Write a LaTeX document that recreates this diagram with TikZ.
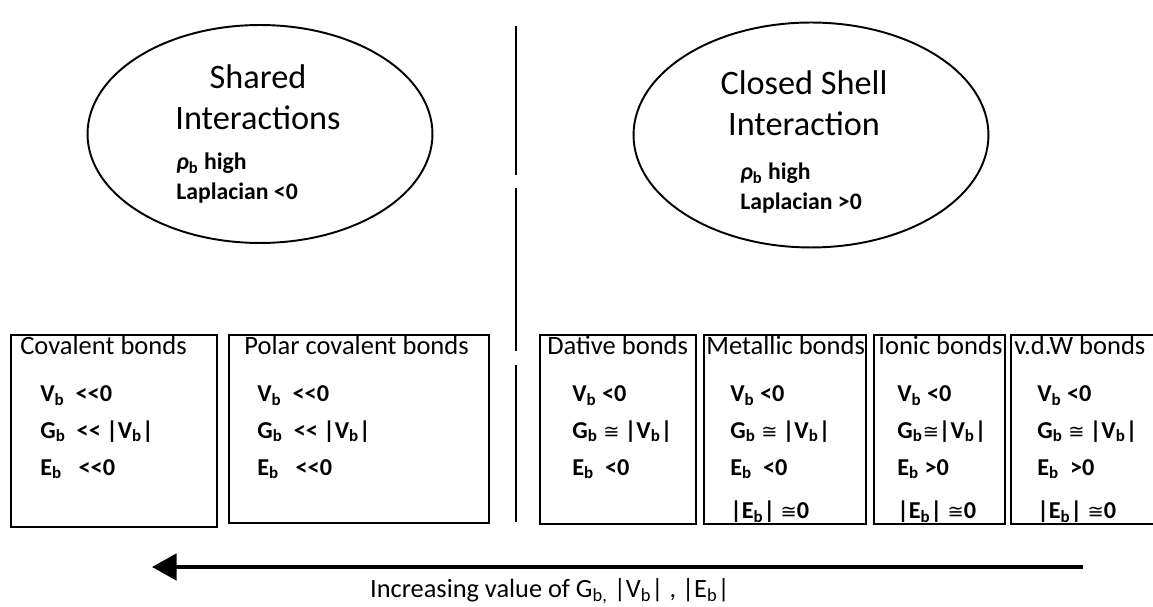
\documentclass[tikz,border=0pt]{standalone}
\usepackage{fontspec}
\setmainfont{Carlito}[Ligatures=TeXOff]
\newfontfamily\symfont{DejaVu Sans}
\usepackage{tikz}
\usetikzlibrary{shapes.geometric,arrows.meta}
\newcommand{\bsub}{\textsubscript{b}}
\newcommand{\approxeq}{{\symfont\mdseries\fontsize{11}{13}\selectfont ≅}}

\begin{document}
\begin{tikzpicture}[>={Triangle[length=14pt,width=15pt]}, x=0.02cm, y=-0.02cm,
  bondbox/.style={draw, line width=1.6pt, inner sep=0pt},
  bondtitle/.style={anchor=base west, inner sep=0pt, font=\fontsize{15.1}{17}\selectfont},
  bondvals/.style={anchor=north west, inner sep=0pt, align=left, font=\bfseries\fontsize{13.8}{21}\selectfont},
  kind/.style={draw, ellipse, line width=1.1pt, inner sep=0pt},
  kindtitle/.style={align=center, inner sep=0pt, font=\fontsize{19.5}{23.3}\selectfont},
  kindvals/.style={anchor=north west, inner sep=0pt, align=left, font=\bfseries\fontsize{13.5}{17}\selectfont}]
\useasboundingbox (0,0) rectangle (1153,607);

% the two kinds of interaction
\node[kind, minimum width=6.9cm, minimum height=4.36cm] (SI) at (260,134) {};
\node[kindtitle] (SIt) at (258,97) {Shared\\Interactions};
\node[kindvals] (SIv) at (176,153) {{\itshape ρ}\bsub{} high\\Laplacian <0};

\node[kind, minimum width=7.1cm, minimum height=4.5cm] (CS) at (811,135) {};
\node[kindtitle] (CSt) at (804,103) {Closed Shell\\Interaction};
\node[kindvals] (CSv) at (740,163) {{\itshape ρ}\bsub{} high\\Laplacian >0};

% dividing line
\draw[line width=1.6pt] (516,26) -- (516,175);
\draw[line width=1.6pt] (516,188) -- (516,351);
\draw[line width=1.6pt] (516,365) -- (516,522);

% bond types
\node[bondbox, minimum width=4.12cm, minimum height=3.84cm] (cov) at (114,431) {};
\node[bondbox, minimum width=5.2cm, minimum height=3.76cm] (pol) at (359,429) {};
\node[bondbox, minimum width=3.12cm, minimum height=3.78cm] (dat) at (618,429.5) {};
\node[bondbox, minimum width=3.24cm, minimum height=3.78cm] (met) at (785,429.5) {};
\node[bondbox, minimum width=2.62cm, minimum height=3.78cm] (ion) at (939.5,429.5) {};
\node[bondbox, minimum width=3.08cm, minimum height=3.78cm] (vdw) at (1088,429.5) {};

\node[bondtitle] (covT) at (20,355) {Covalent bonds};
\node[bondtitle] (polT) at (244,355) {Polar covalent bonds};
\node[bondtitle] (datT) at (547,355) {Dative bonds};
\node[bondtitle] (metT) at (706,355) {Metallic bonds};
\node[bondtitle] (ionT) at (878,355) {Ionic bonds};
\node[bondtitle] (vdwT) at (1014,355) {v.d.W bonds};

\node[bondvals] (covV) at (40,385) {V\bsub~~<<0\\G\bsub~~<< |V\bsub|\\E\bsub~~~<<0};
\node[bondvals] (polV) at (257,385) {V\bsub~~<<0\\G\bsub~~<< |V\bsub|\\E\bsub~~~<<0};
\node[bondvals] (datV) at (572,385) {V\bsub{} <0\\G\bsub{} \approxeq{} |V\bsub|\\E\bsub~~<0};
\node[bondvals] (metV) at (730,385) {V\bsub{} <0\\G\bsub{} \approxeq{} |V\bsub|\\E\bsub~~<0\\[4pt]|E\bsub| \approxeq0};
\node[bondvals] (ionV) at (897,385) {V\bsub{} <0\\G\bsub\approxeq|V\bsub|\\E\bsub{} >0\\[4pt]|E\bsub| \approxeq0};
\node[bondvals] (vdwV) at (1037,385) {V\bsub{} <0\\G\bsub{} \approxeq{} |V\bsub|\\E\bsub~~>0\\[4pt]|E\bsub| \approxeq0};

% trend arrow
\coordinate (hi) at (1083,567);
\coordinate (lo) at (152,567);
\draw[->, line width=2.2pt] (hi) -- (lo);
\node[font=\fontsize{15}{17}\selectfont] (inc) at (550,591) {Increasing value of G\textsubscript{b,} |V\bsub| , |E\bsub|};
\end{tikzpicture}
\end{document}
